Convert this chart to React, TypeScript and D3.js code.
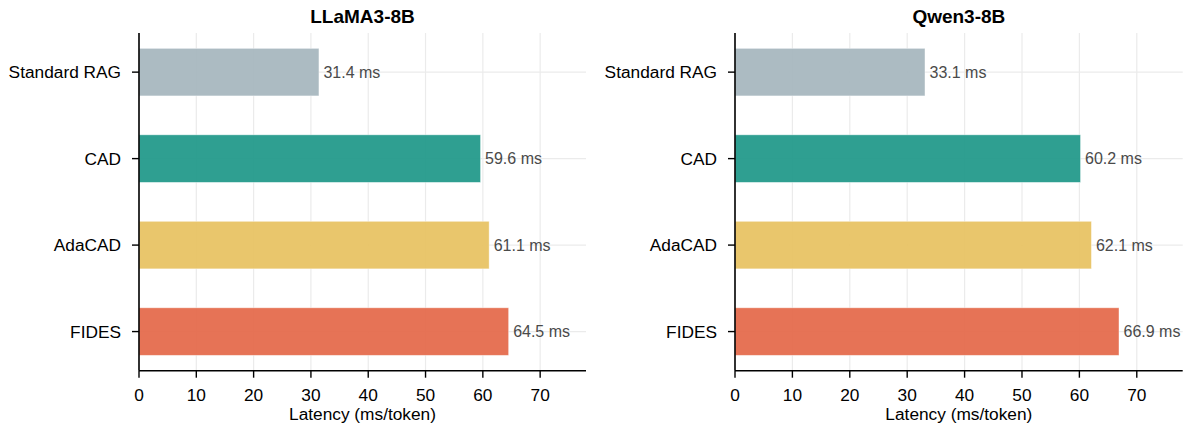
import React from "react";
import * as d3 from "d3";

const categories = ["Standard RAG", "CAD", "AdaCAD", "FIDES"];
const llamaLatency = [31.4, 59.6, 61.1, 64.5];
const qwenLatency = [33.1, 60.2, 62.1, 66.9];
const panelTitles = ["LLaMA3-8B", "Qwen3-8B"];
const xTicks = [0, 10, 20, 30, 40, 50, 60, 70];
const xAxisLabel = "Latency (ms/token)";
const X_MAX = 78;

const BAR_COLORS = ["#a8b7bf", "#249a8b", "#e8c364", "#e56c4d"];
const FONT = "'Liberation Sans', Arial, Helvetica, sans-serif";

const W = 1186;
const H = 434;
const TOP = 33;
const BOTTOM = 370.7;

function Panel({ x0, x1, title, values }: { x0: number; x1: number; title: string; values: number[] }) {
  const barH = 0.55;
  const n = categories.length;
  const lo = -barH / 2;
  const hi = n - 1 + barH / 2;
  const pad = (hi - lo) * 0.05;
  const y = d3.scaleLinear().domain([lo - pad, hi + pad]).range([TOP, BOTTOM]);
  const x = d3.scaleLinear().domain([0, X_MAX]).range([x0, x1]);
  const bh = y(barH) - y(0);
  return (
    <g>
      <text x={(x0 + x1) / 2} y={23} textAnchor="middle" fontFamily={FONT} fontWeight="bold" fontSize={19} fill="#000">
        {title}
      </text>
      {xTicks.map((t) => (
        <line key={"gx" + t} x1={x(t)} x2={x(t)} y1={TOP} y2={BOTTOM} stroke="#ebebeb" strokeWidth={1.2} />
      ))}
      {categories.map((c, i) => (
        <line key={"gy" + c} x1={x0} x2={x1} y1={y(i)} y2={y(i)} stroke="#ebebeb" strokeWidth={1.2} />
      ))}
      {values.map((v, i) => (
        <g key={"b" + i}>
          <rect
            x={x(0)}
            y={y(i) - bh / 2}
            width={x(v) - x(0)}
            height={bh}
            fill={BAR_COLORS[i]}
            fillOpacity={0.95}
            stroke="#ffffff"
            strokeOpacity={0.5}
            strokeWidth={0.8}
          />
          <text x={x(v) + 4.5} y={y(i)} dy="0.35em" fontFamily={FONT} fontSize={16} fill="#4a4a4a">
            {v.toFixed(1)} ms
          </text>
        </g>
      ))}
      <line x1={x0} x2={x0} y1={TOP} y2={BOTTOM} stroke="#000" strokeWidth={1.6} />
      <line x1={x0} x2={x1} y1={BOTTOM} y2={BOTTOM} stroke="#000" strokeWidth={1.6} />
      {categories.map((c, i) => (
        <g key={"yt" + c}>
          <line x1={x0 - 7} x2={x0} y1={y(i)} y2={y(i)} stroke="#000" strokeWidth={1.4} />
          <text x={x0 - 18} y={y(i)} dy="0.35em" textAnchor="end" fontFamily={FONT} fontSize={17.3} fill="#000">
            {c}
          </text>
        </g>
      ))}
      {xTicks.map((t) => (
        <g key={"xt" + t}>
          <line x1={x(t)} x2={x(t)} y1={BOTTOM} y2={BOTTOM + 7} stroke="#000" strokeWidth={1.4} />
          <text x={x(t)} y={400.5} textAnchor="middle" fontFamily={FONT} fontSize={17.3} fill="#000">
            {t}
          </text>
        </g>
      ))}
      <text x={(x0 + x1) / 2} y={419.5} textAnchor="middle" fontFamily={FONT} fontSize={17.3} fill="#000">
        {xAxisLabel}
      </text>
    </g>
  );
}

export default function App() {
  return (
    <svg
      width={W}
      height={H}
      style={{ position: "absolute", left: 0, top: 0, background: "#fff" }}
      xmlns="http://www.w3.org/2000/svg"
    >
      <rect x={0} y={0} width={W} height={H} fill="#fff" />
      <Panel x0={139} x1={586} title={panelTitles[0]} values={llamaLatency} />
      <Panel x0={735} x1={1182.7} title={panelTitles[1]} values={qwenLatency} />
    </svg>
  );
}
